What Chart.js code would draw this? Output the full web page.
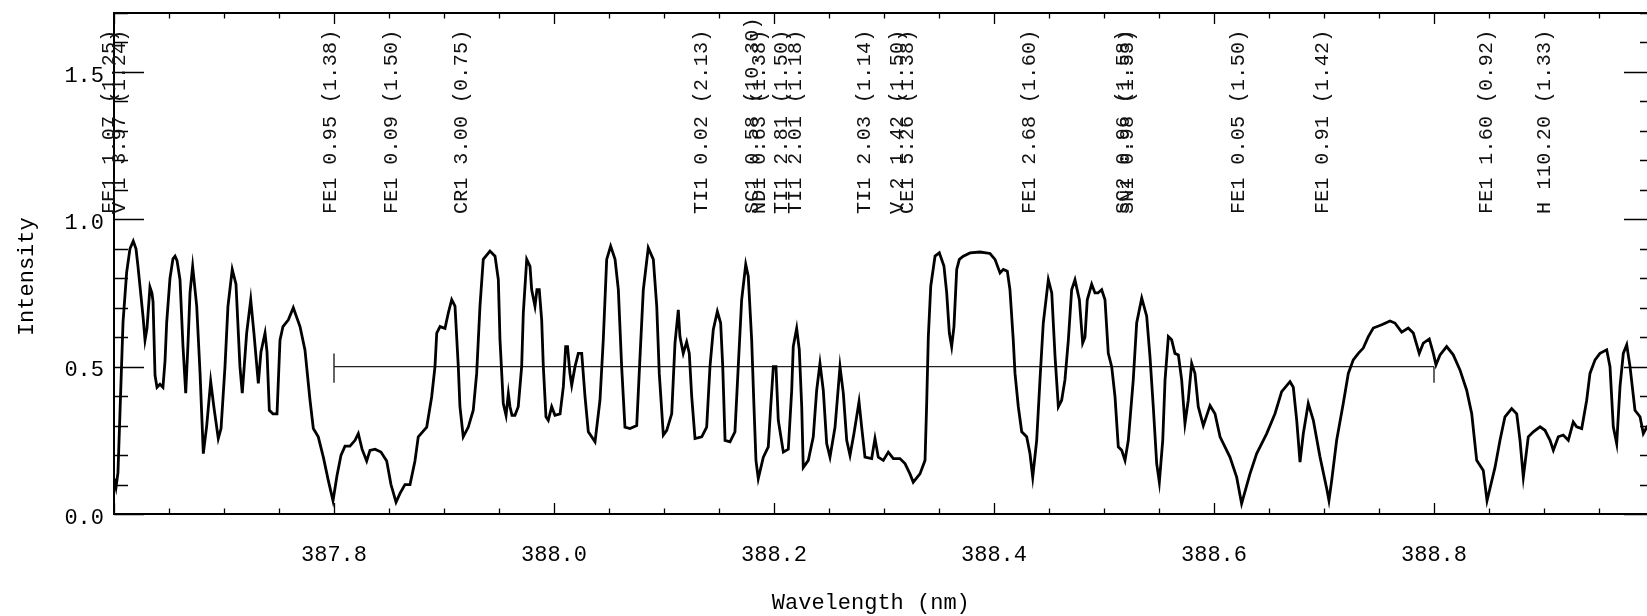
<!DOCTYPE html>
<html>
<head>
<meta charset="utf-8">
<script src="https://cdn.jsdelivr.net/npm/chart.js@4/dist/chart.umd.min.js"></script>
<style>
  html, body { margin: 0; padding: 0; background: #fff; overflow: hidden; }
  canvas { display: block; }
</style>
</head>
<body>
<canvas id="spec" width="1660" height="616"></canvas>
<script>
// spectrum
const wavelength = [
  387.6000, 387.6018, 387.6036, 387.6055, 387.6082, 387.6115, 387.6145, 387.6175, 387.6200, 387.6218,
  387.6245, 387.6264, 387.6282, 387.6300, 387.6327, 387.6345, 387.6355, 387.6373, 387.6391, 387.6418,
  387.6445, 387.6464, 387.6479, 387.6509, 387.6536, 387.6555, 387.6573, 387.6600, 387.6627, 387.6652,
  387.6673, 387.6691, 387.6715, 387.6752, 387.6782, 387.6812, 387.6843, 387.6879, 387.6909, 387.6948,
  387.6973, 387.7009, 387.7036, 387.7075, 387.7109, 387.7145, 387.7166, 387.7206, 387.7243, 387.7273,
  387.7312, 387.7336, 387.7373, 387.7391, 387.7412, 387.7445, 387.7482, 387.7509, 387.7536, 387.7585,
  387.7630, 387.7691, 387.7736, 387.7782, 387.7812, 387.7857, 387.7903, 387.7948, 387.7991, 387.8027,
  387.8064, 387.8100, 387.8145, 387.8191, 387.8221, 387.8255, 387.8297, 387.8327, 387.8373, 387.8427,
  387.8479, 387.8518, 387.8564, 387.8600, 387.8645, 387.8691, 387.8736, 387.8766, 387.8843, 387.8888,
  387.8918, 387.8934, 387.8964, 387.9009, 387.9039, 387.9070, 387.9100, 387.9130, 387.9145, 387.9175,
  387.9221, 387.9266, 387.9297, 387.9327, 387.9357, 387.9418, 387.9464, 387.9494, 387.9509, 387.9539,
  387.9564, 387.9585, 387.9600, 387.9618, 387.9645, 387.9675, 387.9706, 387.9721, 387.9752, 387.9782,
  387.9797, 387.9827, 387.9845, 387.9866, 387.9888, 387.9903, 387.9927, 387.9948, 387.9979, 388.0009,
  388.0055, 388.0085, 388.0106, 388.0123, 388.0145, 388.0161, 388.0191, 388.0221, 388.0252, 388.0282,
  388.0312, 388.0373, 388.0418, 388.0448, 388.0479, 388.0515, 388.0555, 388.0585, 388.0615, 388.0645,
  388.0691, 388.0752, 388.0782, 388.0812, 388.0857, 388.0903, 388.0934, 388.0957, 388.0994, 388.1025,
  388.1070, 388.1100, 388.1130, 388.1145, 388.1175, 388.1206, 388.1230, 388.1252, 388.1282, 388.1343,
  388.1388, 388.1418, 388.1448, 388.1485, 388.1515, 388.1534, 388.1555, 388.1600, 388.1645, 388.1675,
  388.1706, 388.1743, 388.1766, 388.1797, 388.1818, 388.1836, 388.1857, 388.1903, 388.1948, 388.1970,
  388.1994, 388.2018, 388.2039, 388.2085, 388.2130, 388.2161, 388.2175, 388.2206, 388.2230, 388.2252,
  388.2266, 388.2312, 388.2357, 388.2388, 388.2418, 388.2448, 388.2479, 388.2509, 388.2555, 388.2600,
  388.2630, 388.2661, 388.2691, 388.2727, 388.2773, 388.2797, 388.2827, 388.2888, 388.2918, 388.2948,
  388.2994, 388.3039, 388.3085, 388.3145, 388.3191, 388.3236, 388.3266, 388.3327, 388.3373, 388.3388,
  388.3403, 388.3425, 388.3464, 388.3503, 388.3545, 388.3570, 388.3594, 388.3615, 388.3636, 388.3661,
  388.3685, 388.3721, 388.3782, 388.3873, 388.3964, 388.4009, 388.4055, 388.4085, 388.4121, 388.4145,
  388.4175, 388.4191, 388.4221, 388.4252, 388.4297, 388.4327, 388.4352, 388.4388, 388.4418, 388.4448,
  388.4494, 388.4525, 388.4555, 388.4585, 388.4615, 388.4645, 388.4676, 388.4706, 388.4736, 388.4776,
  388.4806, 388.4827, 388.4848, 388.4888, 388.4918, 388.4945, 388.4979, 388.5009, 388.5039, 388.5070,
  388.5100, 388.5130, 388.5161, 388.5191, 388.5221, 388.5266, 388.5297, 388.5343, 388.5388, 388.5418,
  388.5448, 388.5479, 388.5503, 388.5534, 388.5555, 388.5585, 388.5615, 388.5645, 388.5676, 388.5706,
  388.5736, 388.5766, 388.5797, 388.5827, 388.5857, 388.5903, 388.5964, 388.6009, 388.6055, 388.6145,
  388.6206, 388.6251, 388.6327, 388.6388, 388.6479, 388.6555, 388.6615, 388.6691, 388.6721, 388.6752,
  388.6782, 388.6812, 388.6857, 388.6903, 388.6964, 388.7025, 388.7045, 388.7070, 388.7115, 388.7175,
  388.7221, 388.7266, 388.7312, 388.7357, 388.7403, 388.7448, 388.7525, 388.7600, 388.7645, 388.7706,
  388.7766, 388.7812, 388.7866, 388.7903, 388.7957, 388.7994, 388.8018, 388.8055, 388.8115, 388.8175,
  388.8236, 388.8297, 388.8343, 388.8388, 388.8448, 388.8482, 388.8555, 388.8600, 388.8645, 388.8706,
  388.8752, 388.8782, 388.8812, 388.8857, 388.8903, 388.8964, 388.9009, 388.9055, 388.9085, 388.9130,
  388.9175, 388.9221, 388.9266, 388.9297, 388.9343, 388.9388, 388.9418, 388.9464, 388.9509, 388.9570,
  388.9600, 388.9630, 388.9661, 388.9691, 388.9721, 388.9752, 388.9782, 388.9827, 388.9873, 388.9903,
  388.9936, 388.9991
];
const intensity = [
  0.12, 0.09, 0.14, 0.35, 0.65, 0.82, 0.90, 0.926, 0.90, 0.84,
  0.74, 0.67, 0.59, 0.63, 0.77, 0.75, 0.72, 0.47, 0.43, 0.44,
  0.43, 0.52, 0.65, 0.80, 0.866, 0.875, 0.86, 0.795, 0.57, 0.41,
  0.58, 0.75, 0.84, 0.705, 0.48, 0.205, 0.30, 0.45, 0.36, 0.256,
  0.29, 0.50, 0.705, 0.83, 0.78, 0.50, 0.41, 0.614, 0.727, 0.61,
  0.443, 0.55, 0.614, 0.55, 0.352, 0.34, 0.34, 0.59, 0.636, 0.659,
  0.70, 0.636, 0.557, 0.386, 0.29, 0.262, 0.193, 0.114, 0.045, 0.13,
  0.20, 0.23, 0.23, 0.25, 0.273, 0.22, 0.18, 0.216, 0.22, 0.21,
  0.18, 0.10, 0.04, 0.07, 0.10, 0.10, 0.18, 0.262, 0.295, 0.398,
  0.50, 0.614, 0.636, 0.63, 0.682, 0.727, 0.705, 0.50, 0.364, 0.262,
  0.295, 0.352, 0.477, 0.705, 0.864, 0.892, 0.875, 0.795, 0.591, 0.375,
  0.335, 0.409, 0.364, 0.335, 0.335, 0.364, 0.50, 0.682, 0.864, 0.84,
  0.761, 0.705, 0.761, 0.761, 0.659, 0.50, 0.33, 0.318, 0.364, 0.335,
  0.34, 0.432, 0.568, 0.568, 0.477, 0.437, 0.50, 0.545, 0.545, 0.398,
  0.279, 0.245, 0.386, 0.591, 0.864, 0.909, 0.864, 0.761, 0.50, 0.295,
  0.29, 0.30, 0.534, 0.761, 0.903, 0.864, 0.705, 0.477, 0.268, 0.284,
  0.34, 0.58, 0.693, 0.602, 0.545, 0.584, 0.545, 0.398, 0.256, 0.262,
  0.295, 0.50, 0.625, 0.687, 0.648, 0.50, 0.25, 0.245, 0.279, 0.50,
  0.727, 0.847, 0.807, 0.591, 0.364, 0.182, 0.12, 0.193, 0.228, 0.364,
  0.50, 0.50, 0.318, 0.21, 0.22, 0.42, 0.568, 0.63, 0.557, 0.364,
  0.158, 0.182, 0.262, 0.42, 0.511, 0.42, 0.239, 0.193, 0.295, 0.50,
  0.41, 0.25, 0.199, 0.273, 0.381, 0.295, 0.193, 0.188, 0.256, 0.193,
  0.182, 0.21, 0.188, 0.188, 0.171, 0.136, 0.108, 0.136, 0.182, 0.375,
  0.602, 0.773, 0.875, 0.886, 0.841, 0.75, 0.614, 0.568, 0.636, 0.83,
  0.864, 0.875, 0.886, 0.889, 0.884, 0.864, 0.818, 0.83, 0.824, 0.761,
  0.591, 0.477, 0.364, 0.279, 0.262, 0.205, 0.125, 0.25, 0.455, 0.648,
  0.795, 0.75, 0.534, 0.364, 0.386, 0.455, 0.591, 0.761, 0.795, 0.727,
  0.58, 0.60, 0.727, 0.78, 0.75, 0.75, 0.761, 0.727, 0.545, 0.50,
  0.398, 0.228, 0.216, 0.182, 0.25, 0.455, 0.648, 0.733, 0.671, 0.534,
  0.364, 0.171, 0.108, 0.25, 0.455, 0.602, 0.591, 0.545, 0.54, 0.455,
  0.307, 0.386, 0.511, 0.477, 0.364, 0.30, 0.368, 0.34, 0.262, 0.193,
  0.125, 0.035, 0.136, 0.205, 0.273, 0.341, 0.415, 0.449, 0.43, 0.318,
  0.176, 0.273, 0.375, 0.318, 0.193, 0.086, 0.046, 0.114, 0.25, 0.375,
  0.477, 0.523, 0.545, 0.563, 0.602, 0.631, 0.642, 0.655, 0.648, 0.617,
  0.631, 0.614, 0.545, 0.58, 0.594, 0.545, 0.506, 0.54, 0.568, 0.54,
  0.489, 0.42, 0.34, 0.182, 0.148, 0.045, 0.159, 0.25, 0.33, 0.358,
  0.34, 0.25, 0.125, 0.262, 0.279, 0.296, 0.284, 0.25, 0.216, 0.262,
  0.268, 0.25, 0.312, 0.296, 0.29, 0.386, 0.477, 0.523, 0.545, 0.557,
  0.50, 0.296, 0.239, 0.432, 0.545, 0.574, 0.50, 0.352, 0.33, 0.273,
  0.296, 0.31
];

// line identifications written above the spectrum
const lineWave = [387.5964, 387.6055, 387.7973, 387.8527, 387.9161, 388.1343, 388.1809, 388.1873,
  388.2073, 388.2200, 388.2827, 388.3127, 388.3218, 388.4327, 388.5182, 388.5218,
  388.6227, 388.6991, 388.8482, 388.9009];
const lineText = ['FE1 1.07 (1.25)', 'V 1 3.97 (1.24)', 'FE1 0.95 (1.38)', 'FE1 0.09 (1.50)',
  'CR1 3.00 (0.75)', 'TI1 0.02 (2.13)', 'SC1 0.58 (10.30)', 'ND1 0.63 (1.38)',
  'TI1 2.81 (1.50)', 'TI1 2.01 (1.18)', 'TI1 2.03 (1.14)', 'V 2 1.42 (1.50)',
  'CE1 5.26 (1.38)', 'FE1 2.68 (1.60)', 'SC2 0.96 (1.58)', 'SN1 0.98 (1.53)',
  'FE1 0.05 (1.50)', 'FE1 0.91 (1.42)', 'FE1 1.60 (0.92)', 'H 110.20 (1.33)'];
const lineBase = 1.018;

// resolution marker at 0.5
const markerWave = [387.8, 388.8];
const markerLevel = 0.5;
const capLeft = [0.445, 0.545];
const capRight = [0.5, 0.445];

const xTickLabels = ['387.8', '388.0', '388.2', '388.4', '388.6', '388.8'];
const yTickLabels = ['0.0', '0.5', '1.0', '1.5'];

const MONO = '"Liberation Mono", "DejaVu Sans Mono", monospace';
Chart.defaults.font.family = MONO;
Chart.defaults.color = '#000';

function pickLabel(v, list) {
  const s = v.toFixed(1);
  return (list.includes(s) && Math.abs(v - Number(s)) < 1e-6) ? s : '';
}
function onStep(v, step) {
  const r = v / step;
  return Math.abs(r - Math.round(r)) < 1e-6;
}

// IDL style box with inward ticks on all four sides
const frameTicks = {
  id: 'frameTicks',
  afterDatasetsDraw(chart) {
    const { ctx, chartArea: a, scales: { x, y } } = chart;
    ctx.save();
    ctx.strokeStyle = '#000';
    ctx.lineWidth = 2;
    ctx.strokeRect(a.left, a.top, a.right - a.left, a.bottom - a.top);
    ctx.lineWidth = 1.3;
    ctx.beginPath();
    x.ticks.forEach(t => {
      const px = Math.round(x.getPixelForValue(t.value)) + 0.5;
      const len = onStep(t.value, 0.2) ? 11 : 5.5;
      ctx.moveTo(px, a.bottom); ctx.lineTo(px, a.bottom - len);
      ctx.moveTo(px, a.top); ctx.lineTo(px, a.top + len);
    });
    y.ticks.forEach(t => {
      const py = Math.round(y.getPixelForValue(t.value)) + 0.5;
      const len = onStep(t.value, 0.5) ? 30 : 14;
      ctx.moveTo(a.left, py); ctx.lineTo(a.left + len, py);
      ctx.moveTo(a.right, py); ctx.lineTo(a.right - len, py);
    });
    ctx.stroke();
    ctx.restore();
  }
};

const lineIds = {
  id: 'lineIds',
  afterDraw(chart) {
    const { ctx, scales: { x, y } } = chart;
    const base = y.getPixelForValue(lineBase);
    ctx.save();
    ctx.font = '20px ' + MONO;
    ctx.letterSpacing = '0.3px';
    ctx.fillStyle = '#111';
    ctx.textAlign = 'left';
    ctx.textBaseline = 'middle';
    lineWave.forEach((w, i) => {
      ctx.save();
      ctx.translate(x.getPixelForValue(w), base);
      ctx.rotate(-Math.PI / 2);
      ctx.fillText(lineText[i], 0, 0);
      ctx.restore();
    });
    ctx.restore();
  }
};

new Chart(document.getElementById('spec'), {
  type: 'line',
  data: {
    datasets: [
      {
        data: wavelength.map((w, i) => ({ x: w, y: intensity[i] })),
        borderColor: '#000',
        borderWidth: 2.8,
        pointRadius: 0,
        tension: 0
      },
      {
        data: markerWave.map(w => ({ x: w, y: markerLevel })),
        borderColor: '#222',
        borderWidth: 1.4,
        pointRadius: 0
      },
      {
        data: capLeft.map(v => ({ x: markerWave[0], y: v })),
        borderColor: '#222',
        borderWidth: 1.4,
        pointRadius: 0
      },
      {
        data: capRight.map(v => ({ x: markerWave[1], y: v })),
        borderColor: '#222',
        borderWidth: 1.4,
        pointRadius: 0
      }
    ]
  },
  options: {
    responsive: false,
    animation: false,
    devicePixelRatio: 1,
    layout: { padding: { top: 13, right: 6, left: 0, bottom: 0 } },
    plugins: {
      legend: { display: false },
      tooltip: { enabled: false }
    },
    scales: {
      x: {
        type: 'linear',
        min: 387.6,
        max: 389.0,
        grid: { display: false, drawTicks: false },
        border: { display: false },
        ticks: {
          stepSize: 0.05,
          autoSkip: false,
          maxRotation: 0,
          padding: 28,
          font: { size: 22 },
          callback: v => pickLabel(v, xTickLabels)
        },
        title: {
          display: true,
          text: 'Wavelength (nm)  ',
          font: { size: 22 },
          padding: { top: 0, bottom: 0 }
        },
        afterFit: s => {
          s.height = 102;
          s.paddingLeft = 0;
          s.paddingRight = 0;
        }
      },
      y: {
        type: 'linear',
        min: 0,
        max: 1.7,
        grid: { display: false, drawTicks: false },
        border: { display: false },
        ticks: {
          stepSize: 0.1,
          autoSkip: false,
          padding: 10,
          labelOffset: 4,
          font: { size: 22 },
          callback: v => pickLabel(v, yTickLabels)
        },
        title: {
          display: true,
          text: 'Intensity  ',
          font: { size: 22 },
          padding: { top: 14, bottom: 0 }
        },
        afterFit: s => {
          s.width = 114;
          s.paddingTop = 0;
          s.paddingBottom = 0;
        }
      }
    }
  },
  plugins: [frameTicks, lineIds]
});
</script>
</body>
</html>
